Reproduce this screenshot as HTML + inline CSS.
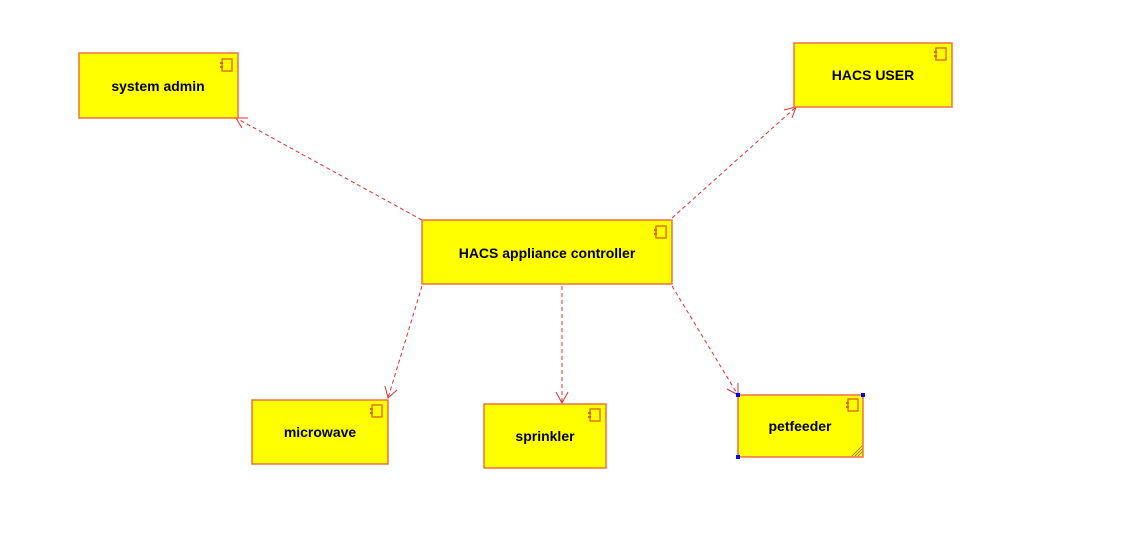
<!DOCTYPE html>
<html><head><style>body{margin:0;background:#fff}svg{display:block}text{font-family:"Liberation Sans",Arial,sans-serif;font-weight:bold;font-size:14px;fill:#000}</style></head>
<body>
<svg width="1128" height="539" xmlns="http://www.w3.org/2000/svg">
<defs>
<g id="ic"><rect x="0" y="0" width="10" height="12" fill="none" stroke="#e06000" stroke-width="1.3"/><rect x="-2" y="3" width="3" height="2" fill="#e06000"/><rect x="-2" y="7" width="3" height="2" fill="#e06000"/></g>
</defs>
<g stroke="#e53030" stroke-width="1" stroke-dasharray="4,3" fill="none">
<line x1="422" y1="220" x2="236" y2="118"/>
<line x1="672" y1="218" x2="796" y2="107"/>
<line x1="422" y1="286" x2="388" y2="398"/>
<line x1="562" y1="286" x2="562" y2="403"/>
<line x1="672" y1="286" x2="738" y2="395"/>
</g>
<g stroke="#e53030" stroke-width="1" fill="none">
<polyline points="242,128 236,118 248,118"/>
<polyline points="784,110 796,107 792,118"/>
<polyline points="397,390 388,398 385,386"/>
<polyline points="556,392 562,403 568,392"/>
<polyline points="738,383 738,395 727,389"/>
</g>
<g fill="#ffff00" stroke="#f07040" stroke-width="1.5">
<rect x="79" y="53" width="159" height="65"/>
<rect x="794" y="43" width="158" height="64"/>
<rect x="422" y="220" width="250" height="64"/>
<rect x="252" y="400" width="136" height="64"/>
<rect x="484" y="404" width="122" height="64"/>
<rect x="738" y="395" width="125" height="62"/>
</g>
<use href="#ic" x="222" y="59"/>
<use href="#ic" x="936" y="48"/>
<use href="#ic" x="656" y="226"/>
<use href="#ic" x="372" y="405"/>
<use href="#ic" x="590" y="409"/>
<use href="#ic" x="848" y="399"/>
<g fill="#0000ff"><rect x="736" y="393" width="4" height="4"/><rect x="861" y="393" width="4" height="4"/><rect x="736" y="455" width="4" height="4"/></g>
<g stroke="#806000" stroke-width="0.8"><line x1="852" y1="456" x2="862" y2="446"/><line x1="855" y1="456" x2="862" y2="449"/><line x1="858" y1="456" x2="862" y2="452"/></g>
<g text-anchor="middle">
<text x="158" y="91">system admin</text>
<text x="873" y="80" font-size="16">HACS USER</text>
<text x="547" y="258" font-size="15.5">HACS appliance controller</text>
<text x="320" y="437">microwave</text>
<text x="545" y="441">sprinkler</text>
<text x="800" y="431">petfeeder</text>
</g>
</svg>
</body></html>
